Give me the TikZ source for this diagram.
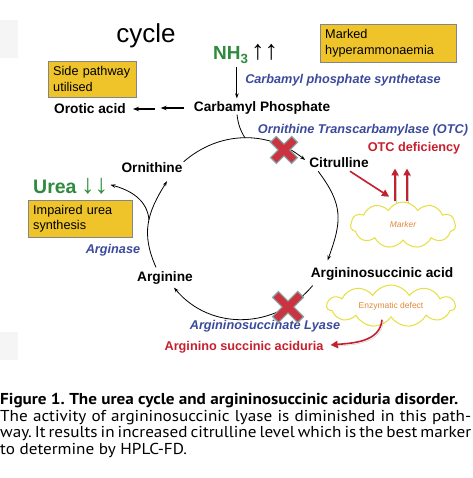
\documentclass[tikz,border=0pt]{standalone}
\usepackage{fontspec}
\setmainfont{Liberation Sans}
\newfontfamily\captionfont[FakeStretch=1.085]{PT Sans}
\usetikzlibrary{arrows.meta,shapes.symbols,calc}

\definecolor{boxyellow}{HTML}{EFC42A}
\definecolor{boxedge}{HTML}{858585}
\definecolor{ureagreen}{HTML}{2E8A3C}
\definecolor{enzymeblue}{HTML}{3B4A9C}
\definecolor{defectred}{HTML}{C61F2D}
\definecolor{crossred}{HTML}{CC3340}
\definecolor{crossedge}{HTML}{86A3A6}
\definecolor{cloudyellow}{HTML}{E5DF3F}
\definecolor{cloudtext}{HTML}{E0893A}

\begin{document}
\frenchspacing
\begin{tikzpicture}[x=1pt, y=1pt,
    chem/.style={font=\fontsize{13.7}{16}\selectfont\bfseries, inner sep=1pt},
    enzyme/.style={font=\fontsize{12.7}{15}\selectfont\bfseries\itshape, text=enzymeblue, inner sep=1pt},
    defect/.style={font=\fontsize{12.7}{15}\selectfont\bfseries, text=defectred, inner sep=1pt},
    notebox/.style={draw=boxedge, fill=boxyellow, font=\fontsize{12.7}{15.5}\selectfont, align=left, anchor=north west, inner xsep=5pt, inner ysep=2pt},
    cyc/.style={-{Stealth[length=5pt,width=3.5pt]}, line width=0.8pt},
    sidearrow/.style={-{Stealth[length=6pt,width=4.5pt]}, line width=1.3pt},
    redarrow/.style={-{Triangle[length=7pt,width=7pt]}, line width=1.6pt, defectred, preaction={draw=black!22, transform canvas={shift={(1.5pt,-1.5pt)}}}},
    puff/.style={cloud, cloud puffs=11, cloud puff arc=120, draw=cloudyellow, line width=1pt, fill=white, inner sep=0pt},
    cloudlabel/.style={text=cloudtext, inner sep=0pt}
  ]
  \useasboundingbox (0,0) rectangle (472,478);
  % faint page marks
  \fill[black!4] (0,420) rectangle (18,458);
  \fill[black!4] (0,118) rectangle (18,146);

  % Title word
  \node[font=\fontsize{26}{30}\selectfont] (title) at (146,442) {cycle};

  % Ammonia and carbamyl phosphate
  \node[anchor=base west, font=\fontsize{19}{22}\selectfont\bfseries, text=ureagreen, inner sep=0pt] (nh) at (213,418) {NH\textsubscript{3}};
  \node[anchor=base west, font=\fontsize{27}{30}\selectfont\bfseries, inner sep=0pt] (nhup) at (251,418) {↑↑};
  \node[chem] (cp) at (262,370) {Carbamyl Phosphate};
  \node[enzyme] (cps) at (343,398) {Carbamyl phosphate synthetase};
  \coordinate (nhfoot) at ($(nh.south)+(6,-3)$);
  \draw[cyc] (nhfoot) -- ($(nhfoot |- cp.north)+(0,2)$);

  % Notes
  \node[notebox, minimum width=136pt, minimum height=38pt, text width=126pt] (hyper) at (320,454) {Marked\\hyperammonaemia};
  \node[notebox, minimum width=88pt, minimum height=36pt, text width=78pt] (side) at (48,417) {Side pathway\\utilised};
  \node[notebox, minimum width=104pt, minimum height=37pt, text width=94pt] (impaired) at (28,278) {Impaired urea\\synthesis};

  % Side pathway
  \node[chem] (oro) at (90,369) {Orotic acid};
  \draw[sidearrow] ($(cp.west)+(-9,0)$) -- ($(cp.west)+(-32,0)$);
  \draw[sidearrow] ($(oro.east)+(28,0)$) -- ($(oro.east)+(6,0)$);

  % Cycle members
  \node[chem] (orn) at (152,310) {Ornithine};
  \node[chem] (cit) at (339,315) {Citrulline};
  \node[chem] (asa) at (382,204) {Argininosuccinic acid};
  \node[chem] (arg) at (165,200) {Arginine};
  \node[anchor=base west, font=\fontsize{19.5}{22}\selectfont\bfseries, text=ureagreen, inner sep=0pt] (urea) at (33,284) {Urea};
  \node[anchor=base west, font=\fontsize{27}{30}\selectfont\bfseries, text=ureagreen, inner sep=0pt] (ureadown) at (81,284) {↓↓};

  % Enzymes and defects
  \node[enzyme] (otc) at (363,348) {Ornithine Transcarbamylase (OTC)};
  \node[defect] (otcdef) at (414,330) {OTC deficiency};
  \node[enzyme] (arginase) at (113,228) {Arginase};
  \node[enzyme] (lyase) at (265,152) {Argininosuccinate Lyase};
  \node[defect] (acid) at (244,131) {Arginino succinic aciduria};

  % Cycle
  \coordinate (cptop) at (245,340);
  \draw[line width=0.8pt] ($(cp.south)+(-25,1)$) to[bend right=12] (cptop);
  \draw[cyc] (orn.north east) to[out=41, in=141] ($(cit.west)+(-3,3)$);
  \draw[cyc] ($(cit.south west)+(10,-2)$) to[out=-53, in=70, looseness=1.2] ($(asa.north west)+(18,6)$);
  \draw[cyc] ($(asa.south west)+(3,-4)$) to[out=-130, in=-50, looseness=1.05] ($(arg.south east)+(-20,-2)$);
  \draw[cyc] ($(arg.north west)+(20,3)$) to[out=114, in=-122, looseness=1.1] ($(orn.south)+(15,-7)$);
  \coordinate (ubr) at (149,258);
  \draw[cyc] (ubr) to[out=95, in=-15] ($(ureadown.east)+(2,2)$);

  % Blocked steps
  \coordinate (x1) at (284,328);
  \coordinate (x2) at (288,171);
  \foreach \c/\s in {x1/10, x2/12} {
    \draw[crossedge, line width=9.5pt] ($(\c)+(-\s-1,-\s-1)$) -- ($(\c)+(\s+1,\s+1)$);
    \draw[crossedge, line width=9.5pt] ($(\c)+(-\s-1,\s+1)$) -- ($(\c)+(\s+1,-\s-1)$);
    \draw[crossred, line width=7pt] ($(\c)+(-\s,-\s)$) -- ($(\c)+(\s,\s)$);
    \draw[crossred, line width=7pt] ($(\c)+(-\s,\s)$) -- ($(\c)+(\s,-\s)$);
  }

  % Clouds
  \node[puff, minimum width=105pt, minimum height=46pt, aspect=2.3] (marker) at (403,253) {};
  \node[cloudlabel, font=\fontsize{8.4}{10}\selectfont\itshape] (markertext) at (marker.center) {Marker};
  \node[puff, minimum width=128pt, minimum height=42pt, aspect=3.1] (enz) at (391,172) {};
  \node[cloudlabel, font=\fontsize{8.5}{10}\selectfont] (enztext) at (enz.center) {Enzymatic defect};

  % Red arrows
  \draw[redarrow] ($(cit.south)+(11,-2)$) -- ($(marker.north)+(-14,5)$);
  \foreach \dx in {-8,4}
    \draw[redarrow] ($(marker.north)+(\dx,0)$) -- ++(0,33);
  \draw[redarrow] ($(enz.south)+(-9,-2)$) to[out=-95, in=5] ($(acid.east)+(6,2)$);

  % Caption
  \begin{scope}[every node/.style={anchor=base west, inner sep=0pt, font=\captionfont\fontsize{15.8}{17}\selectfont}]
    \node (cap1) at (0,73) {\bfseries Figure 1. The urea cycle and argininosuccinic aciduria disorder.};
    \node (cap2) at (0,56) {\makebox[471pt][s]{The activity of argininosuccinic lyase is diminished in this path-}};
    \node (cap3) at (0,40) {\makebox[471pt][s]{way. It results in increased citrulline level which is the best marker}};
    \node (cap4) at (0,23) {to determine by HPLC-FD.};
  \end{scope}
\end{tikzpicture}
\end{document}
